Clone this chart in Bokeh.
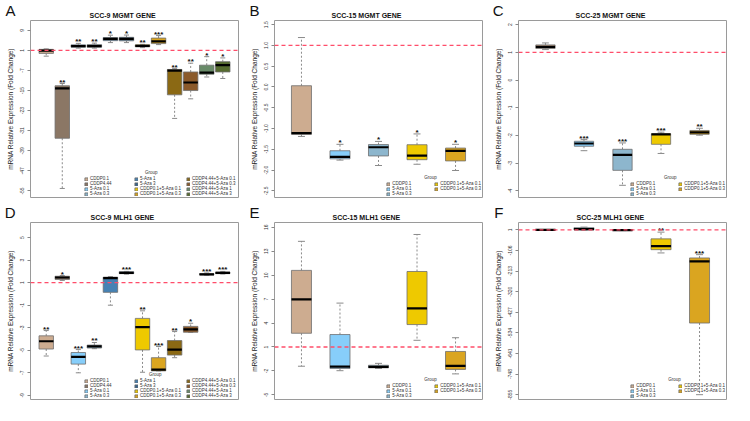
from bokeh.plotting import figure
from bokeh.layouts import column, row
from bokeh.models import (Range1d, FixedTicker, Span, Legend, LegendItem, Label,
                          ColumnDataSource, LinearAxis)
from bokeh.core.properties import value
from bokeh.embed import file_html
from bokeh.resources import INLINE

FONT = "Liberation Sans"

GROUPS = ["CDDP0.1", "CDDP4.44", "5-Aza 0.1", "5-Aza 0.3", "5-Aza 1", "5-Aza 3",
          "CDDP0.1+5-Aza 0.1", "CDDP0.1+5-Aza 0.3", "CDDP4.44+5-Aza 0.1",
          "CDDP4.44+5-Aza 0.3", "CDDP4.44+5-Aza 1", "CDDP4.44+5-Aza 3"]
COLORS = ["#CDAC90", "#8B7765", "#87CEFA", "#8DB6CD", "#4682B4", "#36648B",
          "#EEC900", "#DAA520", "#8B6914", "#8B5A2B", "#698B69", "#556B2F"]
IDX12 = list(range(12))
IDX5 = [0, 2, 3, 6, 7]
REF_LEVEL = 1

# ---- Panel A: SCC-9 MGMT
a_lo = [-1.3, -54.0, 1.9, 1.9, 4.1, 4.1, 2.1, 3.3, -26.1, -18.3, -9.6, -10.2]
a_q1 = [-0.2, -34.0, 2.26, 2.26, 4.87, 4.8, 2.4, 3.7, -16.7, -15.0, -8.5, -7.6]
a_med = [0.9, -14.1, 2.7, 2.7, 5.6, 5.6, 2.8, 4.6, -7.1, -11.8, -7.9, -4.9]
a_q3 = [1.4, -13.1, 3.2, 3.3, 6.1, 6.2, 3.2, 5.9, -6.6, -7.6, -4.9, -3.5]
a_hi = [1.6, -12.2, 3.8, 3.9, 7.05, 7.1, 3.4, 6.9, -6.3, -4.1, -1.5, -2.0]
a_sig = ["", "**", "**", "**", "*", "*", "**", "***", "**", "**", "*", "*"]
a_ticks = [9, 1, -7, -15, -23, -31, -39, -47, -55]
a_labels = ["9", "1", "-7", "-15", "-23", "-31", "-39", "-47", "-55"]

# ---- Panel B: SCC-15 MGMT
b_lo = [-1.19, -1.76, -1.89, -1.86, -2.01]
b_q1 = [-1.14, -1.73, -1.66, -1.75, -1.78]
b_med = [-1.11, -1.68, -1.45, -1.65, -1.54]
b_q3 = [0.03, -1.535, -1.386, -1.39, -1.47]
b_hi = [1.19, -1.38, -1.31, -1.13, -1.38]
b_sig = ["", "*", "*", "*", "*"]
b_ticks = [1.5, 1.0, 0.5, 0.0, -0.5, -1.0, -1.5, -2.0, -2.5]
b_labels = ["1.5", "1.0", "0.5", "0.0", "-0.5", "-1.0", "-1.5", "-2.0", "-2.5"]

# ---- Panel C: SCC-25 MGMT
c_lo = [1.1, -2.55, -3.8, -2.65, -1.99]
c_q1 = [1.14, -2.39, -3.26, -2.32, -1.96]
c_med = [1.2, -2.29, -2.7, -1.96, -1.89]
c_q3 = [1.27, -2.21, -2.5, -1.94, -1.82]
c_hi = [1.34, -2.15, -2.27, -1.88, -1.74]
c_sig = ["", "***", "***", "***", "**"]
c_ticks = [2, 1, 0, -1, -2, -3, -4]
c_labels = ["2", "1", "0", "-1", "-2", "-3", "-4"]

# ---- Panel D: SCC-9 MLH1
d_lo = [-5.51, 1.2, -7.0, -4.86, -1.0, 1.76, -6.95, -6.83, -5.66, -3.4, 1.66, 1.77]
d_q1 = [-4.89, 1.29, -6.23, -4.8, 0.14, 1.8, -4.97, -6.83, -5.43, -3.4, 1.69, 1.8]
d_med = [-4.2, 1.46, -5.58, -4.66, 1.4, 1.86, -2.94, -6.71, -4.94, -3.14, 1.74, 1.86]
d_q3 = [-3.72, 1.57, -5.2, -4.54, 1.49, 1.97, -2.17, -5.66, -4.14, -2.88, 1.8, 1.94]
d_hi = [-3.25, 1.63, -4.94, -4.31, 1.54, 2.0, -1.5, -4.67, -3.34, -2.6, 1.86, 2.0]
d_sig = ["**", "*", "***", "**", "", "***", "**", "***", "**", "*", "***", "***"]
d_ticks = [5, 3, 1, -1, -3, -5, -7, -9]
d_labels = ["5", "3", "1", "-1", "-3", "-5", "-7", "-9"]

# ---- Panel E: SCC-15 MLH1
e_lo = [-1.41, -1.97, -1.69, 1.84, -2.37]
e_q1 = [2.72, -1.69, -1.61, 3.81, -1.81]
e_med = [6.97, -1.45, -1.49, 5.85, -1.37]
e_q3 = [10.6, 2.56, -1.29, 10.46, 0.44]
e_hi = [14.24, 6.5, -1.05, 15.1, 2.16]
e_sig = ["", "", "", "", ""]
e_ticks = [16, 13, 10, 7, 4, 1, -2, -5]
e_labels = ["16", "13", "10", "7", "4", "1", "-2", "-5"]

# ---- Panel F: SCC-25 MLH1
f_lo = [0.2, 0.0, -3.0, -119, -855]
f_q1 = [0.5, 1.0, -1.5, -102, -483]
f_med = [1.0, 5.0, -0.5, -84, -163]
f_q3 = [1.5, 12.0, 1.0, -46, -145]
f_hi = [1.8, 15.0, 2.0, -11, -128]
f_sig = ["", "", "", "**", "***"]
f_ticks = [1, -106, -213, -320, -427, -534, -641, -748, -855]
f_labels = ["1", "-106", "-213", "-320", "-427", "-534", "-641", "-748", "-855"]

W = 244
HH = 19          # header (letter + title) height
HL = 20          # header left border (holds the panel letter)
H = 183          # plot height
BL, BR, BT, BB = 30, 6, 1, 5
FW, FH = W - BL - BR, H - BT - BB
TITLE_PX = 7
# approximate bold glyph widths (em) to centre the title text
EM = {"S": .667, "C": .722, "-": .333, " ": .278, "M": .833, "G": .778, "T": .611,
      "E": .667, "N": .722, "L": .611, "H": .722}


def text_width(s, px):
    return sum(EM.get(ch, .556) for ch in s) * px


def make_header(letter, title):
    # header strip: the letter is the left-axis tick label, the title the
    # right-axis tick label (side panels are not clipped)
    left_edge = int(round(W / 2 - text_width(title, TITLE_PX) / 2))
    h = figure(width=W, height=HH, output_backend="svg", toolbar_location=None,
               title=None, x_axis_location=None,
               x_range=Range1d(0, 1), y_range=Range1d(0, HH),
               frame_align=False, min_border_left=HL, min_border_right=W - left_edge,
               min_border_top=0, min_border_bottom=0, outline_line_color=None)
    h.grid.visible = False
    ya = h.yaxis[0]
    ya.ticker = FixedTicker(ticks=[9], minor_ticks=[])
    ya.major_label_overrides = {9: letter}
    ya.major_label_text_font = FONT
    ya.major_label_text_font_size = "15px"
    ya.major_label_text_color = "#111111"
    ya.major_label_standoff = 5
    ra = LinearAxis(ticker=FixedTicker(ticks=[4], minor_ticks=[]),
                    major_label_overrides={4: title})
    ra.major_label_text_font = FONT
    ra.major_label_text_font_size = f"{TITLE_PX}px"
    ra.major_label_text_font_style = "bold"
    ra.major_label_text_color = "#111111"
    ra.major_label_standoff = 0
    h.add_layout(ra, "right")
    for a in (ya, ra):
        a.axis_line_color = None
        a.major_tick_line_color = None
        a.minor_tick_line_color = None
        a.major_tick_out = 0
        a.major_tick_in = 0
    return h


def make_panel(letter, title, idx, lo, q1, med, q3, hi, sig, ticks, labels, ylim,
               bw, legend_x, group_pos):
    n = len(idx)
    xs = list(range(1, n + 1))
    cw = bw * 0.35
    src = ColumnDataSource(dict(
        x=xs, lo=lo, q1=q1, med=med, q3=q3, hi=hi, sig=sig,
        color=[COLORS[i] for i in idx],
        left=[x - bw / 2 for x in xs], right=[x + bw / 2 for x in xs],
        cl=[x - cw / 2 for x in xs], cr=[x + cw / 2 for x in xs]))
    p = figure(width=W, height=H, output_backend="svg", toolbar_location=None,
               title=None, x_axis_location=None, frame_align=False,
               x_range=Range1d(0.5 - 0.04 * n, n + 0.5 + 0.04 * n),
               y_range=Range1d(*ylim),
               min_border_left=BL, min_border_right=BR,
               min_border_top=BT, min_border_bottom=BB)
    p.grid.visible = False
    p.outline_line_color = "#9a9a9a"
    p.outline_line_width = 1
    ax = p.yaxis[0]
    ax.ticker = FixedTicker(ticks=ticks, minor_ticks=[])
    ax.major_label_overrides = {t: l for t, l in zip(ticks, labels)}
    ax.major_label_orientation = "vertical"
    ax.major_label_text_font = FONT
    ax.major_label_text_font_size = "5px"
    ax.major_label_text_color = "#333333"
    ax.major_label_standoff = 3
    ax.major_tick_out = 3
    ax.major_tick_in = 0
    ax.major_tick_line_color = "#888888"
    ax.axis_line_color = None
    ax.axis_label = "mRNA Relative Expression (Fold Change)"
    ax.axis_label_text_font = FONT
    ax.axis_label_text_font_size = "6.5px"
    ax.axis_label_text_font_style = "normal"
    ax.axis_label_text_color = "#222222"
    ax.axis_label_standoff = 4

    whisk = dict(line_color="#8a8a8a", line_width=1, line_dash="2 2", source=src)
    p.segment(x0="x", y0="q3", x1="x", y1="hi", **whisk)
    p.segment(x0="x", y0="q1", x1="x", y1="lo", **whisk)
    p.segment(x0="cl", y0="hi", x1="cr", y1="hi", line_color="#8a8a8a", line_width=1, source=src)
    p.segment(x0="cl", y0="lo", x1="cr", y1="lo", line_color="#8a8a8a", line_width=1, source=src)
    box = p.vbar(x="x", width=bw, bottom="q1", top="q3", fill_color="color",
                 line_color="#6e6e6e", line_width=0.8, source=src)
    p.segment(x0="left", y0="med", x1="right", y1="med", line_color="black",
              line_width=2.2, source=src)
    p.text(x="x", y="hi", text="sig", text_align="center", text_baseline="bottom",
           text_font=value(FONT), text_font_size="8px", text_font_style="bold",
           text_color="#111111", y_offset=3, source=src)
    p.add_layout(Span(location=REF_LEVEL, dimension="width", line_color="#FF4D6A",
                      line_dash="4 3", line_width=1.3))

    rows = 4 if n == 12 else 3
    for ci, fx in enumerate(legend_x):
        members = list(range(ci * rows, min((ci + 1) * rows, n)))
        items = [LegendItem(label=GROUPS[idx[k]], renderers=[box], index=k) for k in members]
        yb = 1 + (rows - len(members)) * 5
        leg = Legend(items=items, location=(fx * FW, yb),
                     label_text_font=FONT, label_text_font_size="4.5px",
                     label_text_color="#333333",
                     label_height=5, glyph_height=4, glyph_width=4, spacing=0,
                     padding=0, margin=0, label_standoff=2,
                     background_fill_alpha=0, border_line_color=None)
        p.add_layout(leg)
    p.add_layout(Label(x=group_pos[0] * FW, y=group_pos[1], x_units="screen",
                       y_units="screen", text="Group", text_font=FONT,
                       text_font_size="4.5px", text_color="#333333",
                       text_align="center", text_baseline="middle"))
    return column(make_header(letter, title), p)


L12 = [0.26, 0.50, 0.75]
L5 = [0.54, 0.77]
pa = make_panel("A", "SCC-9 MGMT GENE", IDX12, a_lo, a_q1, a_med, a_q3, a_hi, a_sig,
                a_ticks, a_labels, (-57.6, 12.9), 0.9, L12, (0.58, 25))
pb = make_panel("B", "SCC-15 MGMT GENE", IDX5, b_lo, b_q1, b_med, b_q3, b_hi, b_sig,
                b_ticks, b_labels, (-2.66, 1.60), 0.52, L5, (0.75, 20))
pc = make_panel("C", "SCC-25 MGMT GENE", IDX5, c_lo, c_q1, c_med, c_q3, c_hi, c_sig,
                c_ticks, c_labels, (-4.24, 2.15), 0.5, L5, (0.73, 20))
pd = make_panel("D", "SCC-9 MLH1 GENE", IDX12, d_lo, d_q1, d_med, d_q3, d_hi, d_sig,
                d_ticks, d_labels, (-9.37, 6.34), 0.9, L12, (0.6, 25))
pe = make_panel("E", "SCC-15 MLH1 GENE", IDX5, e_lo, e_q1, e_med, e_q3, e_hi, e_sig,
                e_ticks, e_labels, (-5.58, 16.6), 0.52, L5, (0.75, 20))
pf = make_panel("F", "SCC-25 MLH1 GENE", IDX5, f_lo, f_q1, f_med, f_q3, f_hi, f_sig,
                f_ticks, f_labels, (-880, 39), 0.52, L5, (0.75, 20))

layout = column(row(pa, pb, pc), row(pd, pe, pf))
open("out.html", "w").write(file_html(layout, INLINE))
